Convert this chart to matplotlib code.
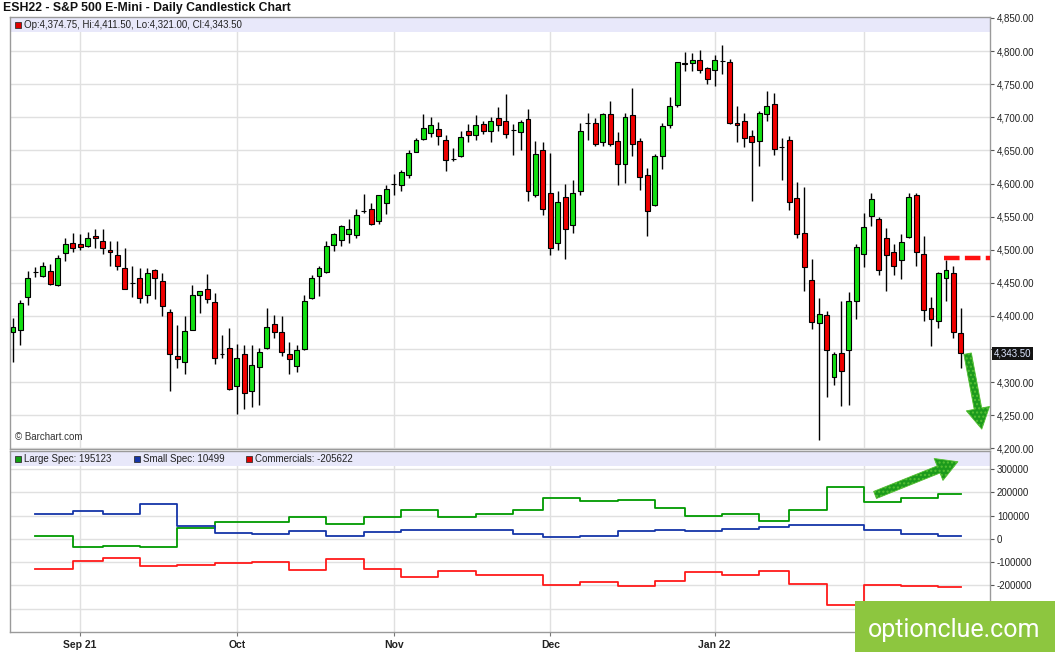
import numpy as np
import pandas as pd
import matplotlib
matplotlib.use("Agg")
import matplotlib.pyplot as plt
import matplotlib.transforms as mtransforms
from matplotlib.patches import Rectangle

plt.rcParams['font.family'] = ['Liberation Sans', 'DejaVu Sans']

# trading days of ESH22 shown on the chart
holidays = ["2021-09-06", "2021-11-25", "2021-12-24", "2022-01-17"]
dates = pd.bdate_range("2021-08-19", "2022-02-18")
dates = dates[~dates.isin(pd.to_datetime(holidays))]

opens = [4376, 4378, 4428, 4466, 4460, 4468, 4447, 4495, 4510, 4509,
         4506, 4521, 4513, 4500, 4492, 4473, 4450, 4457, 4431, 4470,
         4453, 4406, 4340, 4330, 4379, 4432, 4441, 4421, 4342, 4352,
         4294, 4343, 4286, 4323, 4351, 4388, 4376, 4342, 4324, 4350,
         4427, 4460, 4466, 4507, 4514, 4524, 4522, 4558, 4562, 4544,
         4571, 4600, 4598, 4613, 4648, 4667, 4676, 4682, 4665, 4637,
         4642, 4679, 4674, 4690, 4679, 4699, 4695, 4681, 4678, 4697,
         4583, 4651, 4585, 4510, 4580, 4537, 4588, 4691, 4692, 4663,
         4705, 4664, 4629, 4704, 4664, 4613, 4568, 4642, 4689, 4718,
         4782, 4782, 4786, 4775, 4772, 4785, 4784, 4691, 4694, 4672,
         4664, 4705, 4720, 4655, 4666, 4578, 4525, 4454, 4390, 4402,
         4308, 4344, 4349, 4423, 4494, 4551, 4547, 4518, 4497, 4484,
         4519, 4582, 4494, 4412, 4393, 4458, 4465, 4374.75]
highs = [4397, 4424, 4468, 4474, 4482, 4478, 4492, 4518, 4525, 4523,
         4527, 4531, 4531, 4513, 4513, 4502, 4476, 4472, 4472, 4471,
         4465, 4411, 4387, 4400, 4447, 4438, 4464, 4434, 4371, 4382,
         4358, 4356, 4356, 4351, 4412, 4401, 4400, 4360, 4356, 4432,
         4462, 4475, 4513, 4526, 4538, 4546, 4561, 4584, 4571, 4582,
         4598, 4615, 4621, 4650, 4668, 4705, 4701, 4693, 4673, 4654,
         4680, 4690, 4704, 4695, 4701, 4716, 4735, 4690, 4696, 4712,
         4664, 4663, 4646, 4589, 4600, 4606, 4691, 4706, 4699, 4706,
         4725, 4678, 4706, 4745, 4668, 4623, 4644, 4692, 4731, 4784,
         4799, 4797, 4801, 4776, 4794, 4809, 4788, 4717, 4706, 4681,
         4709, 4740, 4737, 4668, 4672, 4603, 4595, 4486, 4427, 4407,
         4345, 4422, 4436, 4508, 4556, 4586, 4549, 4533, 4509, 4524,
         4585, 4585, 4521, 4429, 4467, 4484, 4475, 4411.5]
lows = [4330, 4356, 4417, 4459, 4459, 4447, 4445, 4483, 4497, 4499,
        4504, 4503, 4494, 4475, 4469, 4440, 4428, 4419, 4420, 4426,
        4400, 4286, 4321, 4313, 4378, 4404, 4419, 4327, 4337, 4288,
        4252, 4260, 4263, 4266, 4350, 4366, 4339, 4313, 4315, 4349,
        4426, 4430, 4465, 4498, 4505, 4510, 4517, 4555, 4538, 4539,
        4554, 4582, 4589, 4608, 4647, 4665, 4670, 4658, 4619, 4634,
        4640, 4662, 4665, 4675, 4663, 4679, 4669, 4643, 4650, 4573,
        4580, 4552, 4492, 4500, 4486, 4525, 4583, 4666, 4657, 4656,
        4656, 4597, 4601, 4642, 4590, 4521, 4566, 4622, 4684, 4715,
        4770, 4770, 4767, 4750, 4748, 4766, 4690, 4663, 4655, 4574,
        4627, 4694, 4643, 4605, 4560, 4517, 4437, 4381, 4212, 4277,
        4295, 4264, 4266, 4396, 4474, 4536, 4462, 4438, 4462, 4456,
        4518, 4475, 4393, 4354, 4382, 4423, 4367, 4321]
closes = [4383, 4420, 4458, 4466, 4476, 4448, 4488, 4508, 4503, 4504,
          4518, 4518, 4503, 4496, 4475, 4441, 4450, 4427, 4465, 4457,
          4415, 4342, 4335, 4377, 4431, 4438, 4426, 4337, 4342, 4290,
          4337, 4284, 4326, 4346, 4383, 4376, 4345, 4335, 4349, 4423,
          4457, 4472, 4505, 4523, 4536, 4531, 4552, 4558, 4539, 4582,
          4591, 4600, 4618, 4646, 4666, 4684, 4688, 4672, 4636, 4637,
          4671, 4674, 4689, 4679, 4694, 4689, 4675, 4681, 4693, 4589,
          4645, 4561, 4503, 4572, 4531, 4585, 4679, 4691, 4660, 4705,
          4660, 4629, 4701, 4660, 4610, 4558, 4642, 4687, 4717, 4783,
          4781, 4786, 4771, 4758, 4787, 4785, 4692, 4688, 4668, 4663,
          4706, 4717, 4652, 4655, 4572, 4524, 4474, 4391, 4403, 4349,
          4342, 4317, 4423, 4504, 4535, 4577, 4469, 4492, 4475, 4512,
          4579, 4497, 4409, 4395, 4465, 4470, 4375, 4343.5]

# weekly COT net positions (contracts)
large_spec = [14000, -33000, -29000, -36000, 49000, 72000, 72000, 95000, 63000,
              95000, 124000, 95000, 107000, 124000, 176000, 162000, 166000,
              133000, 98000, 107000, 76000, 124000, 224000, 159000, 176000, 195123]
small_spec = [107000, 121000, 107000, 152000, 56000, 25000, 20000, 35000, 14000,
              30000, 39000, 39000, 39000, 22000, 10000, 14000, 35000, 39000,
              35000, 43000, 53000, 61000, 59000, 39000, 22000, 10499]
commercials = [-128000, -94000, -82000, -118000, -110000, -102000, -98000,
               -134000, -85000, -128000, -164000, -139000, -153000, -153000,
               -196000, -185000, -202000, -179000, -141000, -153000, -137000,
               -192000, -286000, -199000, -202000, -205622]

month_labels = ["Sep 21", "Oct", "Nov", "Dec", "Jan 22", "Feb"]
price_ticks = np.arange(4200, 4851, 50)
cot_ticks = np.arange(-300000, 300001, 100000)
resistance = 4487

W, H = 1055, 652


def fx(x):
    return x / W


def fy(y):
    return 1 - y / H


o = np.array(opens, float)
h = np.array(highs, float)
l = np.array(lows, float)
c = np.array(closes, float)
idx = np.arange(len(o))

periods = dates.to_period('M')
month_pos = np.flatnonzero(periods[1:] != periods[:-1]) + 1
week_pos = np.flatnonzero(dates.dayofweek == 1)
week_pos = week_pos[week_pos >= 3]

fig = plt.figure(figsize=(W / 100, H / 100), dpi=100)
ax = fig.add_axes([fx(10), fy(449), fx(980), 432 / H])
ax2 = fig.add_axes([fx(10), fy(632), fx(980), 181 / H])

grid_c = '#e0e0e0'
for a in (ax, ax2):
    a.set_axisbelow(True)
    for s in a.spines.values():
        s.set_color('#9a9a9a')
        s.set_linewidth(1)
    a.set_xlim(-0.4, 130.9)
    a.set_xticks(month_pos)
    a.grid(color=grid_c, lw=1)
    a.yaxis.tick_right()
    a.tick_params(axis='y', length=3, width=0.8, color='#555', labelsize=7,
                  pad=2, labelcolor='#222')

# candles
up = c >= o
colors = np.where(up, '#12e012', '#f00000')
ax.vlines(idx, l, h, color='black', lw=1, zorder=2)
ax.bar(idx, np.abs(c - o), bottom=np.minimum(o, c), width=0.66, color=colors,
       edgecolor='black', linewidth=0.8, zorder=3)

ax.set_ylim(4199, 4851.5)
ax.set_yticks(price_ticks)
# the last-price box sits on top of the label closest to the close
near = np.argmin(np.abs(price_ticks - c[-1]))
ax.set_yticklabels(["" if k == near else f"{v:,.2f}" for k, v in enumerate(price_ticks)])
ax.tick_params(axis='x', labelbottom=False, length=0)

# header band
ax.add_patch(Rectangle((0, 1 - 15 / 432), 1, 15 / 432, transform=ax.transAxes,
                       fc='#e8e8fa', ec='none', zorder=1))
fig.add_artist(Rectangle((fx(15), fy(28)), fx(6), 6 / H, fc='#e00000', ec='#333',
                         lw=0.6, transform=fig.transFigure))
fig.text(fx(24), fy(25), f"Op:{o[-1]:,.2f}, Hi:{h[-1]:,.2f}, Lo:{l[-1]:,.2f}, Cl:{c[-1]:,.2f}",
         fontsize=7, va='center', color='#222')

ax.text(5 / 980, 12 / 432, "© Barchart.com", transform=ax.transAxes, fontsize=7,
        va='center', color='#333')

# last price box
blend = mtransforms.blended_transform_factory(ax.transAxes, ax.transData)
ax.text(1.004, c[-1], f"{c[-1]:,.2f}", transform=blend, va='center', ha='left',
        fontsize=7, color='#dde6ff', zorder=10, clip_on=False,
        bbox=dict(boxstyle='square,pad=0.18', fc='#141414', ec='none'))

# resistance line and arrow
ax.plot([124.7, 131.5], [resistance, resistance], color='#ff1010', lw=3.2,
        ls=(0, (3.5, 1.2)), zorder=4)
ax.annotate('', xy=(129.8, 4229), xytext=(127.9, 4343),
            arrowprops=dict(arrowstyle='simple,head_length=1.5,head_width=1.7,tail_width=0.55',
                            mutation_scale=10, fc='#1c9a1c', ec='#55c033', lw=0.6,
                            hatch='....', shrinkA=0, shrinkB=0),
            annotation_clip=False, zorder=6)

# COT panel
xs = list(week_pos) + [idx[-1]]
for vals, col in ((large_spec, '#009a00'), (small_spec, '#1535a8'), (commercials, '#ff1a1a')):
    ax2.step(xs, list(vals) + [vals[-1]], where='post', color=col, lw=1.3, zorder=3)

ax2.set_ylim(-400000, 378000)
ax2.set_yticks(cot_ticks)
ax2.set_yticklabels([str(v) for v in cot_ticks])
ax2.set_xticklabels(month_labels)
ax2.tick_params(axis='x', length=3, color='#777', labelsize=7.5, pad=3)
for t in ax2.get_xticklabels():
    t.set_fontweight('bold')
    t.set_color('#222')

ax2.add_patch(Rectangle((0, 1 - 15 / 181), 1, 15 / 181, transform=ax2.transAxes,
                        fc='#e8e8fa', ec='none', zorder=1))
legend_items = [(15, '#11a011', f"Large Spec: {large_spec[-1]}"),
                (134, '#1535a8', f"Small Spec: {small_spec[-1]}"),
                (246, '#e00000', f"Commercials: {commercials[-1]}")]
for x0, col, label in legend_items:
    fig.add_artist(Rectangle((fx(x0), fy(462)), fx(6), 6 / H, fc=col, ec='#333',
                             lw=0.6, transform=fig.transFigure))
    fig.text(fx(x0 + 9), fy(459), label, fontsize=7, va='center', color='#222')

ax2.annotate('', xy=(126.6, 332000), xytext=(115.5, 189000),
             arrowprops=dict(arrowstyle='simple,head_length=1.5,head_width=1.7,tail_width=0.55',
                             mutation_scale=10, fc='#1c9a1c', ec='#55c033', lw=0.6,
                             hatch='....', shrinkA=0, shrinkB=0),
             annotation_clip=False, zorder=6)

# title
fig.text(fx(3), fy(8), "ESH22 - S&P 500 E-Mini - Daily Candlestick Chart",
         fontsize=8.8, fontweight='bold', va='center', color='#111')

# watermark
fig.add_artist(Rectangle((fx(855), 0), fx(200), 51 / H, fc='#8dc63f', ec='none',
                         transform=fig.transFigure, zorder=5))
fig.text(fx(954), fy(637), "optionclue.com", fontsize=18, color='white', ha='center',
         va='baseline', family=['Roboto', 'DejaVu Sans'], zorder=6)

fig.savefig("out.png", dpi=100)
